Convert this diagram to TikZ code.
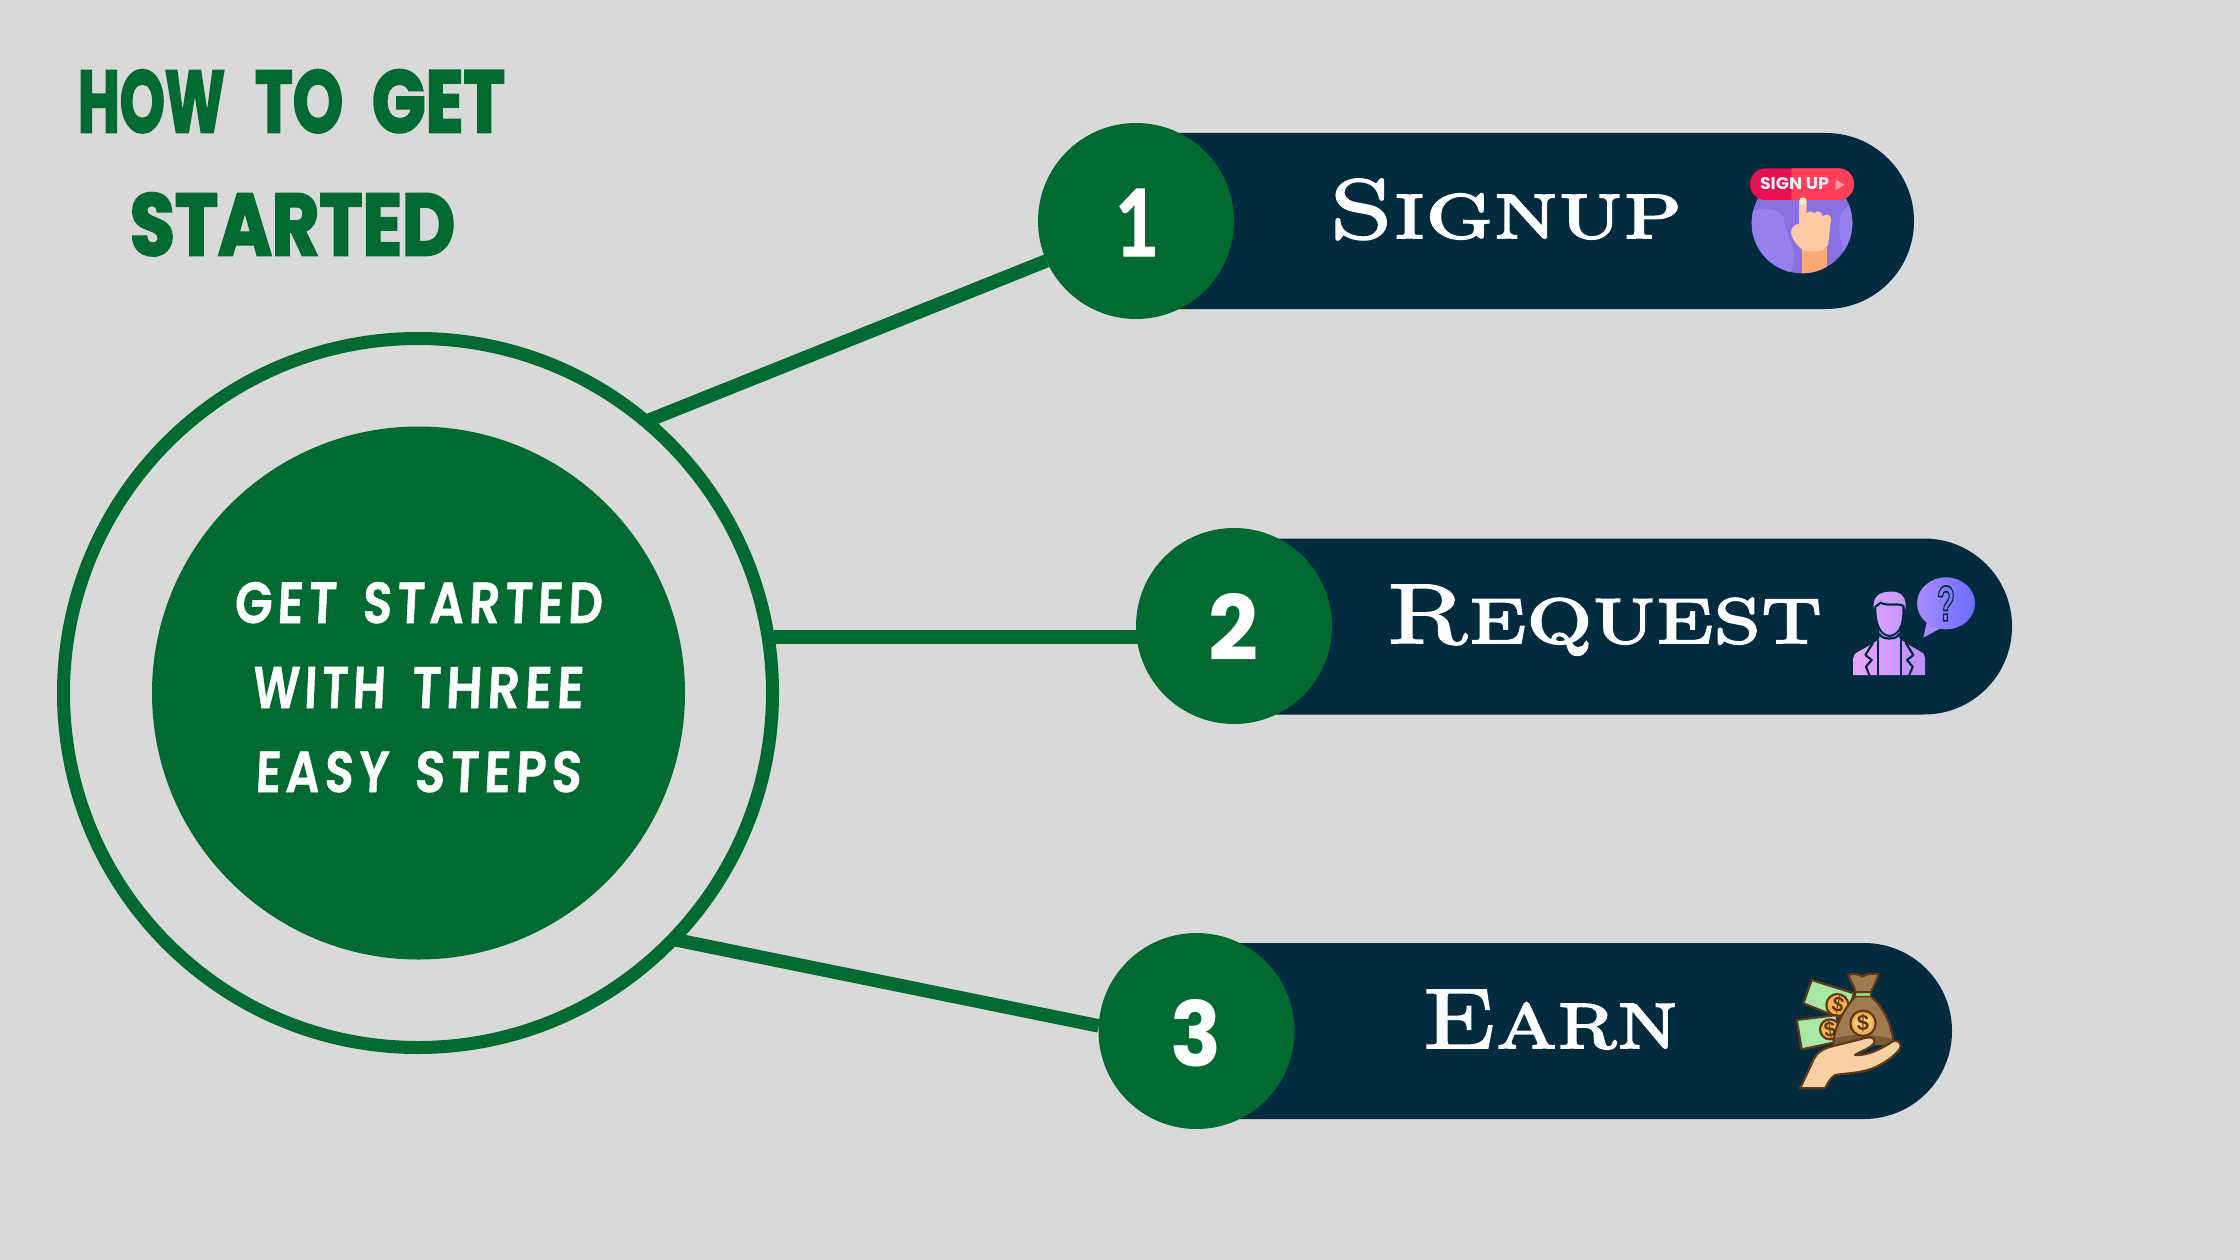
\documentclass[tikz,border=0pt]{standalone}
\usepackage{fontspec}
\usepackage{graphicx}
\newfontfamily\ttlfont{Poppins}[UprightFont=* Bold,FakeBold=3]
\newfontfamily\hndfont{Poppins}[UprightFont=* SemiBold,FakeSlant=0.06,LetterSpace=10,FakeBold=0.9]
\newfontfamily\numfont{Lato}[UprightFont=* Bold,FakeBold=1.5]
\newfontfamily\numfontb{Poppins}[UprightFont=* Bold]
\newfontfamily\icofont{Liberation Sans}[UprightFont=* Bold]
\newfontfamily\icofontb{Poppins}[UprightFont=* Bold]
\definecolor{bgc}{HTML}{D9D9D9}
\definecolor{grn}{HTML}{006A30}
\definecolor{nvy}{HTML}{022B40}
\definecolor{skin}{HTML}{FFC9A6}
\definecolor{brn}{HTML}{5E3A1A}
\definecolor{bag}{HTML}{A07A50}
\definecolor{bagd}{HTML}{7C5A36}
\definecolor{bill}{HTML}{A8E8A5}
\definecolor{coin}{HTML}{F7B24C}
\definecolor{coinl}{HTML}{FBCB78}
\pgfdeclarelayer{under}
\pgfsetlayers{under,main}
\newcommand{\fitbox}[3]{\resizebox{#1pt}{#2pt}{#3}}
\newcommand{\heavier}[1]{\special{pdf:code 2 Tr 0.22 w 1 1 1 RG}#1\special{pdf:code 0 Tr}}
\tikzset{
  txt/.style={inner sep=0pt,outer sep=0pt,anchor=base west},
  pill/.style={fill=nvy,rounded corners=87.9pt,minimum height=176pt,inner sep=0pt,outer sep=0pt},
  numc/.style={circle,fill=grn,minimum size=196pt,inner sep=0pt,outer sep=0pt},
  link/.style={draw=grn,line width=13.5pt},
  ic/.style={shift={#1},x=0.33333pt,y=-0.33333pt},
  bs/.style={draw=brn,line width=2.2pt,line join=round,line cap=round},
  nav/.style={draw=nvy,line width=2.2pt,line join=round,line cap=round}
}
\begin{document}
\begin{tikzpicture}[x=1pt,y=-1pt]
\useasboundingbox (0,0) rectangle (2240,1260);
\begin{pgfonlayer}{under}
\fill[bgc] (0,0) rectangle (2240,1260);
\end{pgfonlayer}

% title
\node[txt,text=grn] (title1) at (78,132) {\ttlfont\fitbox{147}{62}{HOW}\hspace{30pt}\fitbox{88}{62}{TO}\hspace{29pt}\fitbox{133}{62}{GET}};
\node[txt,text=grn] (title2) at (130,255) {\fitbox{325}{62}{\ttlfont STARTED}};

% hub
\node[circle,draw=grn,line width=13pt,minimum size=709pt,inner sep=0pt,outer sep=0pt] (outer) at (418,693) {};
\node[circle,fill=grn,minimum size=533pt,inner sep=0pt,outer sep=0pt] (inner) at (418.5,693) {};
\node[txt,text=white] (l1) at (234,623) {\hndfont\fitbox{102}{41}{GET}\hspace{26pt}\fitbox{240}{41}{STARTED}};
\node[txt,text=white] (l2) at (252,708) {\hndfont\fitbox{133}{41}{WITH}\hspace{26pt}\fitbox{172}{41}{THREE}};
\node[txt,text=white] (l3) at (255,792) {\hndfont\fitbox{133}{41}{EASY}\hspace{26pt}\fitbox{167}{41}{STEPS}};

% pills
\node[pill,minimum width=823pt] (p1) at (1502.5,221) {};
\node[pill,minimum width=823pt] (p2) at (1600.5,626.5) {};
\node[pill,minimum width=800pt] (p3) at (1552,1031) {};

% number circles
\node[numc] (n1) at (1136,221) {};
\node[numc] (n2) at (1234,626) {};
\node[numc] (n3) at (1196.5,1031) {};
\node[txt,text=white] (d1) at (1115,256) {\fitbox{44}{67}{\numfont 1}};
\node[txt,text=white] (d2) at (1208,660) {\fitbox{50}{67}{\numfontb 2}};
\node[txt,text=white] (d3) at (1170,1066) {\fitbox{51}{67}{\numfontb 3}};

% labels
\node[txt,text=white] (t1) at (1329,238) {\fitbox{353}{59}{\scshape\heavier{Signup}}};
\node[txt,text=white] (t2) at (1386,643) {\fitbox{436}{58}{\scshape\heavier{Request}}};
\node[txt,text=white] (t3) at (1422,1048) {\fitbox{256}{58}{\scshape\heavier{Earn}}};

% connectors
\coordinate (lk2) at (772,637);
\begin{pgfonlayer}{under}
\draw[link] (outer.50.3) -- (n1.204.7);
\draw[link] (outer.9.09 |- lk2) -- (n2.center |- lk2);
\draw[link] (outer.-44) -- (n3.177.4);
\end{pgfonlayer}

% icon 1: sign up
\begin{scope}[ic={(1720,150)}]
\fill[fill={rgb,255:red,136;green,112;blue,224}] (246,219) circle[radius=151];
\begin{scope}
\clip (246,219) circle[radius=151];
\fill[fill={rgb,255:red,150;green,128;blue,240}] (90,185) .. controls (130,170) and (180,175) .. (192,205) .. controls (195,250) and (215,270) .. (222,310) .. controls (225,340) and (215,360) .. (205,380) -- (90,380) -- cycle;
\fill[fill={rgb,255:red,150;green,128;blue,240}] (405,160) .. controls (375,165) and (355,190) .. (358,240) .. controls (360,270) and (370,295) .. (372,320) -- (405,320) -- cycle;
\fill[fill={rgb,255:red,255;green,168;blue,118}] (245,295) rectangle (322,375);
\end{scope}
\fill[skin] (237,155) .. controls (237,143) and (260,143) .. (260,155) -- (260,190) .. controls (270,180) and (280,185) .. (283,190) .. controls (292,178) and (305,185) .. (308,198) .. controls (320,190) and (333,195) .. (333,208) -- (325,280) .. controls (322,305) and (280,308) .. (255,302) .. controls (235,295) and (218,270) .. (213,250) .. controls (212,235) and (225,220) .. (237,222) -- cycle;
\fill[fill={rgb,255:red,232;green,16;blue,80},rounded corners=15.6pt] (90,55) rectangle (402,150);
\begin{scope}
\clip (215,40) rectangle (420,160);
\fill[fill={rgb,255:red,255;green,64;blue,88},rounded corners=15.6pt] (90,55) rectangle (402,150);
\end{scope}
\fill[fill={rgb,255:red,251;green,228;blue,212},rounded corners=2pt] (239,143) rectangle (258,165);
\node[txt,text={rgb,255:red,232;green,240;blue,250}] (su) at (120,120) {\fitbox{69}{12}{\icofontb SIGN UP}};
\fill[fill={rgb,255:red,255;green,154;blue,170}] (347,88) -- (373,104) -- (347,120) -- cycle;
\end{scope}

% icon 2: person with question
\begin{scope}[ic={(1830,560)}]
\fill[fill={rgb,255:red,165;green,138;blue,255}] (292,178) -- (280,233) -- (335,203) -- cycle;
\shade[left color={rgb,255:red,170;green,140;blue,255},right color={rgb,255:red,106;green,108;blue,255}] (348,130) ellipse [x radius=87,y radius=78];
\node[inner sep=0pt,outer sep=0pt,text=nvy] (qm) at (348,130) {\fitbox{18}{35}{\icofont\special{pdf:code 1 Tr 0.35 w 0.008 0.169 0.251 RG}?\special{pdf:code 0 Tr}}};
\shade[left color={rgb,255:red,234;green,166;blue,251},right color={rgb,255:red,185;green,142;blue,255}] (70,345) -- (70,295) .. controls (72,282) and (78,278) .. (85,275) -- (130,250) -- (148,235) -- (148,200) -- (208,200) -- (208,235) -- (228,250) -- (272,275) .. controls (280,278) and (285,285) .. (285,295) -- (285,345) -- cycle;
\shade[left color={rgb,255:red,216;green,160;blue,253},right color={rgb,255:red,200;green,150;blue,254}] (132,150) .. controls (124,110) and (150,95) .. (180,95) .. controls (215,92) and (232,115) .. (226,150) -- (222,135) .. controls (205,125) and (170,138) .. (152,125) .. controls (142,128) and (135,135) .. (132,150) -- cycle;
\shade[left color={rgb,255:red,216;green,160;blue,253},right color={rgb,255:red,200;green,150;blue,254},draw=nvy,line width=2pt] (136,140) .. controls (145,135) and (150,130) .. (152,128) .. controls (170,140) and (205,128) .. (220,138) .. controls (222,180) and (215,225) .. (178,228) .. controls (145,225) and (135,180) .. (136,140) -- cycle;
\draw[nav] (148,222) .. controls (155,240) and (200,240) .. (208,222);
\draw[nav] (143,240) -- (143,345);
\draw[nav] (213,240) -- (213,345);
\draw[nav] (128,250) -- (106,285) -- (125,300) -- (108,320) -- (118,345);
\draw[nav] (228,250) -- (250,285) -- (231,300) -- (248,320) -- (238,345);
\end{scope}

% icon 3: money bag
\begin{scope}[ic={(1780,960)}]
\filldraw[bs,fill=bill] (95,60) -- (222,100) -- (195,180) -- (70,130) -- cycle;
\filldraw[bs,fill=coin] (172,135) circle[radius=33];
\node[inner sep=0pt,outer sep=0pt,text=brn,rotate=-12] (c1) at (174,136) {\icofont\fontsize{21}{21}\selectfont\$};
\filldraw[bs,fill=bill] (50,180) -- (170,165) -- (175,245) -- (65,268) -- cycle;
\filldraw[bs,fill=coin] (150,208) circle[radius=30];
\node[inner sep=0pt,outer sep=0pt,text=brn,rotate=8] (c2) at (150,208) {\icofont\fontsize{21}{21}\selectfont\$};
\begin{scope}
\clip (226,110) .. controls (200,135) and (160,200) .. (160,255) -- (340,255) .. controls (340,190) and (300,130) .. (273,110) -- cycle;
\fill[bag] (120,90) rectangle (360,270);
\fill[bagd] (150,240) .. controls (220,215) and (300,225) .. (350,240) -- (350,270) -- (150,270) -- cycle;
\end{scope}
\draw[bs] (226,110) .. controls (200,135) and (160,200) .. (160,255) (340,255) .. controls (340,190) and (300,130) .. (273,110);
\filldraw[bs,fill=bag] (205,45) .. controls (215,40) and (235,40) .. (248,50) .. controls (258,40) and (280,40) .. (295,42) .. controls (290,65) and (280,80) .. (272,97) -- (226,97) .. controls (225,80) and (210,65) .. (205,45) -- cycle;
\filldraw[draw=brn,line width=1.5pt,fill={rgb,255:red,141;green,224;blue,122}] (226,97) -- (272,97) -- (273,110) -- (226,110) -- cycle;
\filldraw[bs,fill=bagd] (249,190) circle[radius=38];
\fill[coin] (249,190) circle[radius=34];
\fill[coinl] (249,190) circle[radius=26];
\node[inner sep=0pt,outer sep=0pt,text=brn] (c3) at (249,190) {\icofont\fontsize{22}{22}\selectfont\$};
\filldraw[bs,fill={rgb,255:red,248;green,209;blue,163}] (60,385) -- (100,300) .. controls (110,277) and (130,265) .. (160,258) -- (240,238) .. controls (262,230) and (285,228) .. (284,245) .. controls (280,262) and (245,272) .. (225,285) .. controls (265,288) and (305,265) .. (340,243) .. controls (352,238) and (365,250) .. (361,262) .. controls (355,280) and (320,305) .. (290,320) .. controls (250,340) and (195,340) .. (165,345) .. controls (150,355) and (142,372) .. (135,385) -- cycle;
\end{scope}
\end{tikzpicture}
\end{document}
